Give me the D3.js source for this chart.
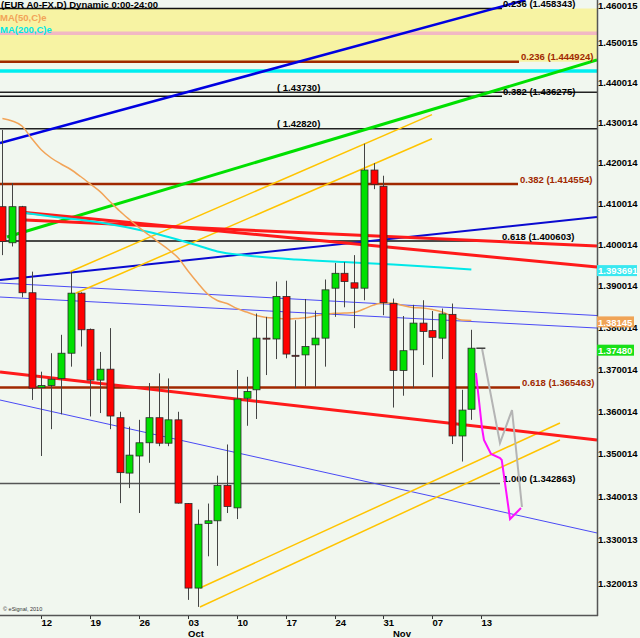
<!DOCTYPE html>
<html><head><meta charset="utf-8">
<script src="https://cdn.jsdelivr.net/npm/d3@7/dist/d3.min.js"></script>
<style>
html,body{margin:0;padding:0;background:#f1f7ef;}
svg{display:block;font-family:"Liberation Sans",Arial,sans-serif;}
</style></head><body>
<svg id="chart" width="640" height="638"></svg>
<script>
// ---------------- DATA ----------------
const titleText = "(EUR A0-FX.D) Dynamic 0:00-24:00";
const legendTexts = ["MA(50,C)e", "MA(200,C)e"];

// daily candles, bar index 0..48 (Sep 6 .. Nov 11)
const open  = [1.4090,1.4002,1.4090,1.3881,1.3654,1.3659,1.3676,1.3736,1.3880,1.3793,1.3672,1.3698,1.3583,1.3453,1.3493,1.3524,1.3583,1.3523,1.3578,1.3382,1.3187,1.3336,1.3342,1.3424,1.3372,1.3629,1.3649,1.3772,1.3770,1.3872,1.3731,1.3732,1.3756,1.3772,1.3892,1.3928,1.3905,1.3892,1.4180,1.4140,1.3855,1.3695,1.3744,1.3808,1.3790,1.3772,1.3829,1.3540,1.3603];
const high  = [1.4279,1.4148,1.4092,1.3932,1.3692,1.3736,1.3780,1.3932,1.3882,1.3795,1.3739,1.3796,1.3597,1.3562,1.3578,1.3665,1.3688,1.3676,1.3597,1.3383,1.3368,1.3382,1.3447,1.3520,1.3696,1.3680,1.3831,1.3823,1.3908,1.3910,1.3815,1.3866,1.3838,1.3913,1.3953,1.3955,1.3972,1.4245,1.4197,1.4166,1.3867,1.3825,1.3852,1.3863,1.3837,1.3843,1.3855,1.3649,1.3792];
const low   = [1.3972,1.3993,1.3870,1.3625,1.3493,1.3556,1.3591,1.3704,1.3752,1.3586,1.3594,1.3556,1.3383,1.3418,1.3360,1.3477,1.3516,1.3516,1.3382,1.3160,1.3144,1.3260,1.3238,1.3360,1.3346,1.3564,1.3580,1.3684,1.3722,1.3724,1.3653,1.3657,1.3656,1.3704,1.3823,1.3846,1.3796,1.3863,1.4133,1.3827,1.3607,1.3635,1.3653,1.3708,1.3679,1.3722,1.3521,1.3480,1.3578];
const close = [1.4005,1.4090,1.3881,1.3653,1.3659,1.3674,1.3736,1.3880,1.3792,1.3672,1.3698,1.3587,1.3454,1.3495,1.3524,1.3583,1.3523,1.3578,1.3383,1.3187,1.3334,1.3342,1.3424,1.3375,1.3627,1.3645,1.3772,1.3770,1.3872,1.3734,1.3729,1.3752,1.3772,1.3888,1.3928,1.3908,1.3892,1.4180,1.4145,1.3857,1.3695,1.3742,1.3808,1.3788,1.3774,1.3830,1.3540,1.3601,1.3748];

// MA(50) per bar
const ma50 = [1.43075,1.43013,1.42888,1.42579,1.42294,1.42097,1.41949,1.41813,1.41641,1.41457,1.41268,1.41027,1.40795,1.40587,1.40387,1.40209,1.40031,1.39856,1.39650,1.39335,1.39045,1.38780,1.38623,1.38551,1.38430,1.38346,1.38262,1.38214,1.38195,1.38178,1.38190,1.38206,1.38250,1.38291,1.38315,1.38322,1.38334,1.38418,1.38514,1.38563,1.38563,1.38502,1.38454,1.38442,1.38406,1.38346,1.38250,1.38154,1.38145];
// MA(200) read at these bars
const ma200Idx = [2,5,10,15,20,22,25,30,35,40,45,48];
const ma200Val = [1.40758,1.40660,1.40514,1.40282,1.39953,1.39808,1.39711,1.39613,1.39553,1.39492,1.39420,1.393691];

// bottom axis
const dayIdx = [4,9,14,19,24,29,34,39,44,49];
const dayLabels = ["12","19","26","03","10","17","24","31","07","13"];
const monthIdx = [19,40];
const monthLabels = ["Oct","Nov"];

// right axis
const priceTicks = [1.460015,1.450015,1.440014,1.430014,1.420014,1.410014,1.400014,1.390014,1.380014,1.370014,1.360014,1.350014,1.340013,1.330013,1.320013];
const priceTickLabels = ["1.460015","1.450015","1.440014","1.430014","1.420014","1.410014","1.400014","1.390014","1.380014","1.370014","1.360014","1.350014","1.340013","1.330013","1.320013"];
const markerValues = [1.393691, 1.38145, 1.37480];
const markerLabels = ["1.393691", "1.38145", "1.37480"];

// fib / price levels
const levelValues = [1.458343, 1.444924, 1.43730, 1.436275, 1.42820, 1.414554, 1.400603, 1.365463, 1.342863];
const levelLabels = ["0.236 (1.458343)", "0.236 (1.444924)", "( 1.43730)", "0.382 (1.436275)", "( 1.42820)", "0.382 (1.414554)", "0.618 (1.400603)", "0.618 (1.365463)", "1.000 (1.342863)"];
const bandValues = [1.458343, 1.444924];
const pinkLevel = 1.45208;
const cyanLevel = 1.44260;

// trend lines [startBar, startPrice, endBar, endPrice]
const trendBlueTop  = [-0.2457, 1.42467, 53.54, 1.46050];
const trendGreen    = [0.471, 1.40160, 60.86, 1.44536];
const trendGoldA    = [6.919, 1.39318, 43.97, 1.43172];
const trendGoldB    = [7.50, 1.38797, 43.97, 1.42574];
const trendGoldC    = [20.22, 1.31871, 57.07, 1.35705];
const trendGoldD    = [20.22, 1.31437, 57.07, 1.35306];
const trendRed1     = [2.31, 1.40758, 60.86, 1.39432];
const trendRed2     = [2.31, 1.40575, 60.86, 1.39941];
const trendRedLow   = [-0.2457, 1.36912, 60.86, 1.35306];
const trendBlueMid  = [-0.2457, 1.39118, 60.86, 1.40648];
const trendBlueThin1= [-0.2457, 1.39045, 60.86, 1.38262];
const trendBlueThin2= [-0.2457, 1.38707, 60.86, 1.37962];
const trendBlueThin3= [-0.2457, 1.36248, 60.86, 1.33138];

// projections
const greyIdx = [49.1, 50.93, 52.16, 53.18];
const greyVal = [1.37461, 1.35234, 1.36012, 1.33740];
const magIdx = [48.47, 49.09, 49.29, 50.01, 50.93, 51.11, 51.96, 53.08];
const magVal = [1.36889, 1.35587, 1.35306, 1.34976, 1.34882, 1.34835, 1.33461, 1.33717];

const copyright = "\u00a9 eSignal, 2010";

// ---------------- DRAW ----------------
const W = 640, H = 638, PR = 597, PB = 615;
const FONT = "bold 9.5px 'Liberation Sans', Arial, sans-serif";
const svg = d3.select("#chart");
const x = d3.scaleLinear().domain([-0.2457, 60.86]).range([0, PR]);
const y = d3.scaleLog().domain([1.312549, 1.460497]).range([PB, 0]);

svg.append("rect").attr("width", W).attr("height", H).attr("fill", "#f1f7ef");
svg.append("defs").append("clipPath").attr("id", "clip")
  .append("rect").attr("width", PR).attr("height", PB);
const g = svg.append("g").attr("clip-path", "url(#clip)");

// band
g.append("rect").attr("x", 0).attr("width", PR)
  .attr("y", y(bandValues[0])).attr("height", y(bandValues[1]) - y(bandValues[0]))
  .attr("fill", "#f7f3a3");
// pink + cyan horizontals
g.append("line").attr("x1", 0).attr("x2", PR).attr("y1", y(pinkLevel)).attr("y2", y(pinkLevel))
  .attr("stroke", "#f2b8c4").attr("stroke-width", 3.5);
g.append("line").attr("x1", 0).attr("x2", PR).attr("y1", y(cyanLevel)).attr("y2", y(cyanLevel))
  .attr("stroke", "#00eef0").attr("stroke-width", 3.5);

// level lines style per level
const levelStyle = [
  {c:"#111", w:1.5, end:502, lx:503, tc:"#000"},
  {c:"#a02800", w:2.5, end:519, lx:521, tc:"#a02800"},
  {c:"#222", w:1.5, end:PR, lx:277, tc:"#000"},
  {c:"#111", w:1.5, end:502, lx:503, tc:"#000"},
  {c:"#222", w:1.5, end:PR, lx:277, tc:"#000"},
  {c:"#a02800", w:2.5, end:518, lx:520, tc:"#a02800"},
  {c:"#111", w:1.5, end:497, lx:502, tc:"#000"},
  {c:"#a02800", w:2.5, end:520, lx:522, tc:"#a02800"},
  {c:"#555", w:1.5, end:500, lx:503, tc:"#000"}
];
levelValues.forEach((v, k) => {
  const s = levelStyle[k];
  g.append("line").attr("x1", 0).attr("x2", s.end).attr("y1", y(v)).attr("y2", y(v))
    .attr("stroke", s.c).attr("stroke-width", s.w);
});

// trend lines
function trend(t, color, width) {
  g.append("line").attr("x1", x(t[0])).attr("y1", y(t[1])).attr("x2", x(t[2])).attr("y2", y(t[3]))
    .attr("stroke", color).attr("stroke-width", width);
}
trend(trendBlueThin1, "#4a4af5", 1);
trend(trendBlueThin2, "#4a4af5", 1);
trend(trendBlueThin3, "#4a4af5", 1);
trend(trendBlueMid, "#0a0ad0", 2);
trend(trendBlueTop, "#0000e0", 2.5);
trend(trendGreen, "#00e000", 3);
trend(trendGoldA, "#ffc400", 1.5);
trend(trendGoldB, "#ffc400", 1.5);
trend(trendGoldC, "#ffc400", 1.5);
trend(trendGoldD, "#ffc400", 1.5);
trend(trendRed2, "#ff1a1a", 3);
trend(trendRed1, "#ff1a1a", 3);
trend(trendRedLow, "#ff1a1a", 3);

// moving averages
const lineGen = d3.line().x(d => x(d[0])).y(d => y(d[1])).curve(d3.curveMonotoneX);
g.append("path").attr("d", lineGen(ma200Idx.map((i, k) => [i, ma200Val[k]])))
  .attr("fill", "none").attr("stroke", "#00e8e8").attr("stroke-width", 2);
g.append("path").attr("d", lineGen(ma50.map((v, i) => [i, v])))
  .attr("fill", "none").attr("stroke", "#f2a458").attr("stroke-width", 1.5);

// candles
const cg = g.append("g");
open.forEach((o, i) => {
  const c = close[i];
  const cx = Math.round(x(i)) + 0.5;
  cg.append("line").attr("x1", cx).attr("x2", cx).attr("y1", y(high[i])).attr("y2", y(low[i]))
    .attr("stroke", "#444").attr("stroke-width", 1);
  const top = y(Math.max(o, c)), bot = y(Math.min(o, c));
  cg.append("rect").attr("x", cx - 3.5).attr("width", 7)
    .attr("y", top).attr("height", Math.max(1, bot - top))
    .attr("fill", c >= o ? "#00e000" : "#ff0000")
    .attr("stroke", "#2a2a2a").attr("stroke-width", 0.8);
});

// level labels
levelValues.forEach((v, k) => {
  const s = levelStyle[k];
  g.append("text").attr("x", s.lx).attr("y", y(v) - 1.5).text(levelLabels[k])
    .style("font", FONT).attr("fill", s.tc);
});

// projections
const lin = d3.line().x(d => x(d[0])).y(d => y(d[1]));
g.append("path").attr("d", lin(greyIdx.map((i, k) => [i, greyVal[k]])))
  .attr("fill", "none").attr("stroke", "#b4b4b4").attr("stroke-width", 2);
g.append("path").attr("d", lin(magIdx.map((i, k) => [i, magVal[k]])))
  .attr("fill", "none").attr("stroke", "#ff10ff").attr("stroke-width", 2);
// last price tick
const lastI = close.length - 1;
g.append("line").attr("x1", x(lastI) + 5).attr("x2", x(lastI) + 14)
  .attr("y1", y(close[lastI])).attr("y2", y(close[lastI])).attr("stroke", "#111").attr("stroke-width", 1.2);

// title & legend
svg.append("text").attr("x", 1).attr("y", 8).text(titleText).style("font", FONT).attr("fill", "#000");
svg.append("text").attr("x", 0).attr("y", 21).text(legendTexts[0]).style("font", FONT).attr("fill", "#f2a458");
svg.append("text").attr("x", 0).attr("y", 32.5).text(legendTexts[1]).style("font", FONT).attr("fill", "#00e8e8");
svg.append("text").attr("x", 3).attr("y", 611).text(copyright)
  .style("font", "5.5px 'Liberation Sans', Arial, sans-serif").attr("fill", "#333");

// frame
svg.append("line").attr("x1", PR + 0.5).attr("x2", PR + 0.5).attr("y1", 0).attr("y2", PB + 1)
  .attr("stroke", "#555").attr("stroke-width", 1.5);
svg.append("line").attr("x1", 0).attr("x2", PR + 1).attr("y1", PB + 0.5).attr("y2", PB + 0.5)
  .attr("stroke", "#555").attr("stroke-width", 1.5);

// right axis labels
priceTicks.forEach((v, k) => {
  svg.append("text").attr("x", 598).attr("y", Math.max(9, y(v) + 4.5)).text(priceTickLabels[k])
    .style("font", FONT).attr("fill", "#000");
});
// marker boxes
const markerFill = ["#3ae8f0", "#f0a456", "#18e018"];
const markerShift = [1, 1.5, 2];
markerValues.forEach((v, k) => {
  const cy = y(v) + markerShift[k];
  svg.append("rect").attr("x", 597).attr("y", cy - 5.5).attr("width", k === 0 ? 40 : 37).attr("height", 11)
    .attr("fill", markerFill[k]);
  svg.append("text").attr("x", 598).attr("y", cy + 3.8).text(markerLabels[k])
    .style("font", FONT).attr("fill", "#fff");
});

// bottom axis
dayIdx.forEach((i, k) => {
  const tx = Math.round(x(i)) + 0.5;
  svg.append("line").attr("x1", tx).attr("x2", tx).attr("y1", PB + 1).attr("y2", PB + 4)
    .attr("stroke", "#333").attr("stroke-width", 1);
  svg.append("text").attr("x", tx).attr("y", 626).text(dayLabels[k]).style("font", FONT).attr("fill", "#000");
});
monthIdx.forEach((i, k) => {
  svg.append("text").attr("x", Math.round(x(i))).attr("y", 637).text(monthLabels[k]).style("font", FONT).attr("fill", "#000");
});
</script>
</body></html>
